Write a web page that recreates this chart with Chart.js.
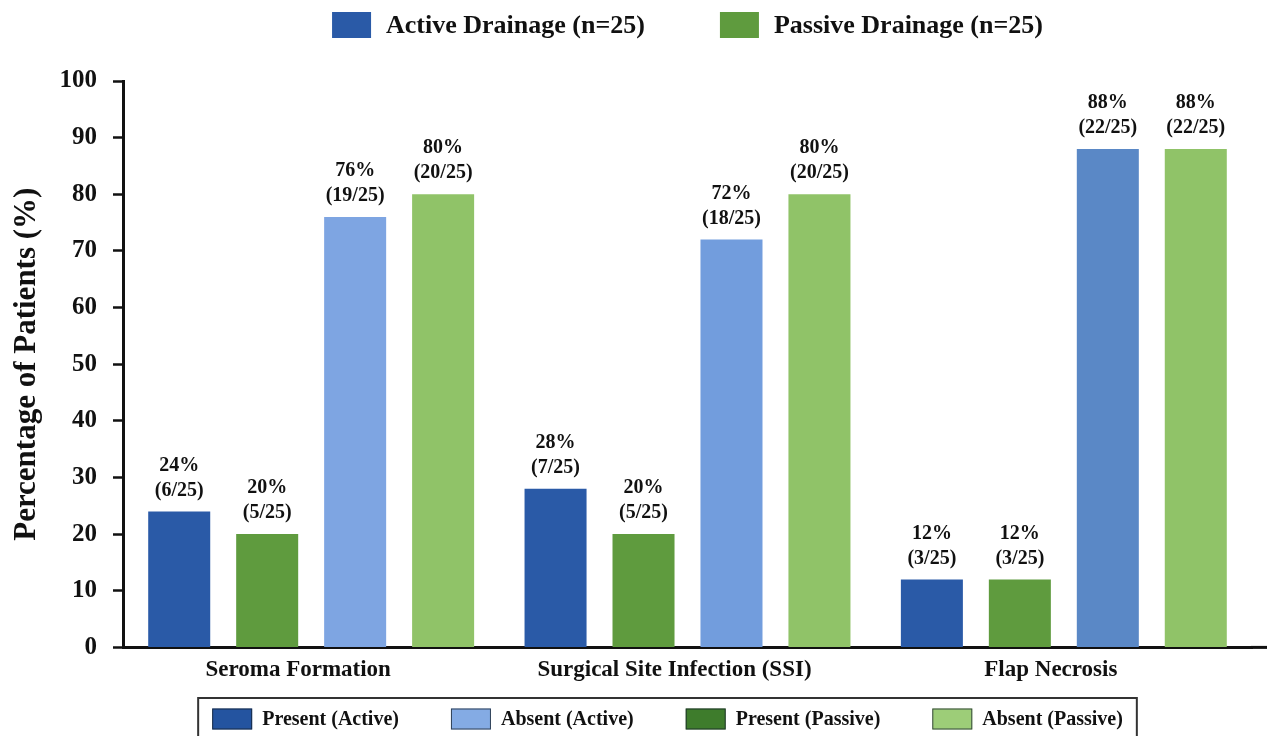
<!DOCTYPE html>
<html>
<head>
<meta charset="utf-8">
<script src="https://cdn.jsdelivr.net/npm/chart.js@4.4.1/dist/chart.umd.min.js"></script>
<style>
  html, body { margin: 0; padding: 0; background: #ffffff; }
  #wrap { width: 1267px; height: 736px; position: relative; overflow: hidden; }
</style>
</head>
<body>
<div id="wrap"><canvas id="chart" width="1267" height="736"></canvas></div>
<script>
// Outcome categories and the share of patients (%) in each arm
const categories = ['Seroma Formation', 'Surgical Site Infection (SSI)', 'Flap Necrosis'];
const armLabels = ['Active Drainage', 'Passive Drainage'];
const totalPerArm = 25;

const presentActive  = [24, 28, 12];
const presentPassive = [20, 20, 12];
const absentActive   = [76, 72, 88];
const absentPassive  = [80, 80, 88];

// Patient counts behind each percentage
const presentActiveCounts  = [6, 7, 3];
const presentPassiveCounts = [5, 5, 3];
const absentActiveCounts   = [19, 18, 22];
const absentPassiveCounts  = [20, 20, 22];

const yTickValues = [0, 10, 20, 30, 40, 50, 60, 70, 80, 90, 100];

const FONT = "'Liberation Serif', 'Times New Roman', serif";
const INK = '#111111';

const datasets = [
  { label: 'Present (Active)',  data: presentActive,  counts: presentActiveCounts,
    backgroundColor: '#2a5aa7', legendColor: '#2454a0' },
  { label: 'Present (Passive)', data: presentPassive, counts: presentPassiveCounts,
    backgroundColor: '#5f9b3e', legendColor: '#3e7c2c' },
  { label: 'Absent (Active)',   data: absentActive,   counts: absentActiveCounts,
    backgroundColor: ['#7ea5e2', '#729ddd', '#5a88c6'], legendColor: '#84abe4' },
  { label: 'Absent (Passive)',  data: absentPassive,  counts: absentPassiveCounts,
    backgroundColor: '#90c368', legendColor: '#9dcd78' }
];
// Bottom legend lists the datasets in this order
const legendOrder = [0, 2, 1, 3];

// Two-line value labels above every bar: "xx%" and "(n/25)"
const valueLabels = {
  id: 'valueLabels',
  afterDatasetsDraw(chart) {
    const ctx = chart.ctx;
    ctx.save();
    ctx.font = `bold 20px ${FONT}`;
    ctx.fillStyle = INK;
    ctx.textAlign = 'center';
    ctx.textBaseline = 'middle';
    chart.data.datasets.forEach((ds, i) => {
      chart.getDatasetMeta(i).data.forEach((bar, j) => {
        ctx.fillText(ds.data[j] + '%', bar.x, bar.y - 46);
        ctx.fillText(`(${ds.counts[j]}/${totalPerArm})`, bar.x, bar.y - 21);
      });
    });
    ctx.restore();
  }
};

// Baseline runs on to the right edge of the canvas
const baselineExtend = {
  id: 'baselineExtend',
  afterDraw(chart) {
    const { ctx, chartArea } = chart;
    ctx.save();
    ctx.strokeStyle = INK;
    ctx.lineWidth = 3;
    ctx.beginPath();
    ctx.moveTo(chartArea.right - 1, chartArea.bottom);
    ctx.lineTo(chart.width, chartArea.bottom);
    ctx.stroke();
    ctx.restore();
  }
};

// Arm key along the top
const armKey = {
  id: 'armKey',
  afterDraw(chart) {
    const { ctx, chartArea } = chart;
    const colors = [datasets[0].backgroundColor, datasets[1].backgroundColor];
    const texts = armLabels.map(a => `${a} (n=${totalPerArm})`);
    ctx.save();
    ctx.font = `bold 26px ${FONT}`;
    ctx.textBaseline = 'middle';
    ctx.textAlign = 'left';
    const boxW = 39, boxH = 26, gap = 15, itemGap = 75, cy = 25;
    const widths = texts.map(t => ctx.measureText(t).width);
    const total = widths.reduce((s, w) => s + boxW + gap + w, 0) + itemGap;
    let x = (chartArea.left + chartArea.right) / 2 - total / 2;
    texts.forEach((t, i) => {
      ctx.fillStyle = colors[i];
      ctx.fillRect(x, cy - boxH / 2, boxW, boxH);
      ctx.fillStyle = INK;
      ctx.fillText(t, x + boxW + gap, cy + 1);
      x += boxW + gap + widths[i] + itemGap;
    });
    ctx.restore();
  }
};

// Framed series key along the bottom
const seriesKey = {
  id: 'seriesKey',
  afterDraw(chart) {
    const ctx = chart.ctx;
    ctx.save();
    ctx.font = `bold 20px ${FONT}`;
    ctx.textBaseline = 'middle';
    ctx.textAlign = 'left';
    const boxW = 40, boxH = 21, gap = 10, itemGap = 52, cy = 719, padX = 14;
    const items = legendOrder.map(i => datasets[i]);
    const widths = items.map(d => ctx.measureText(d.label).width);
    const total = widths.reduce((s, w) => s + boxW + gap + w, 0) + itemGap * (items.length - 1);
    const cx = 667.5;
    let x = cx - total / 2;
    ctx.strokeStyle = '#333333';
    ctx.lineWidth = 2;
    ctx.strokeRect(x - padX, 698, total + 2 * padX, 60);
    items.forEach((d, i) => {
      ctx.fillStyle = d.legendColor;
      ctx.fillRect(x, cy - boxH / 2, boxW, boxH);
      ctx.strokeStyle = 'rgba(20,30,40,0.75)';
      ctx.lineWidth = 1;
      ctx.strokeRect(x + 0.5, cy - boxH / 2 + 0.5, boxW - 1, boxH - 1);
      ctx.fillStyle = INK;
      ctx.fillText(d.label, x + boxW + gap, cy + 1);
      x += boxW + gap + widths[i] + itemGap;
    });
    ctx.restore();
  }
};

new Chart(document.getElementById('chart'), {
  type: 'bar',
  data: { labels: categories, datasets: datasets },
  options: {
    responsive: false,
    animation: false,
    devicePixelRatio: 1,
    layout: { padding: { top: 81, right: 15, bottom: 43, left: 0 } },
    datasets: { bar: { categoryPercentage: 0.935, barPercentage: 0.705 } },
    plugins: {
      legend: { display: false },
      tooltip: { enabled: false }
    },
    scales: {
      x: {
        grid: { display: false, drawTicks: false },
        border: { display: true, color: INK, width: 3 },
        ticks: {
          font: { family: FONT, size: 23, weight: 'bold' },
          color: INK,
          padding: 9,
          labelOffset: -13,
          maxRotation: 0,
          autoSkip: false
        }
      },
      y: {
        min: 0,
        max: 100,
        afterBuildTicks: s => { s.ticks = yTickValues.map(v => ({ value: v })); },
        afterFit: s => { s.width = 123; },
        grid: {
          display: true, drawOnChartArea: false, drawTicks: true,
          tickLength: 10, tickColor: INK, tickWidth: 2.5, color: INK
        },
        border: { display: true, color: INK, width: 3 },
        ticks: {
          font: { family: FONT, size: 25, weight: 'bold' },
          color: INK,
          padding: 16
        },
        title: {
          display: true,
          text: 'Percentage of Patients (%)',
          font: { family: FONT, size: 31, weight: 'bold' },
          color: INK,
          padding: { top: 8, bottom: 0 }
        }
      }
    }
  },
  plugins: [valueLabels, baselineExtend, armKey, seriesKey]
});
</script>
</body>
</html>
